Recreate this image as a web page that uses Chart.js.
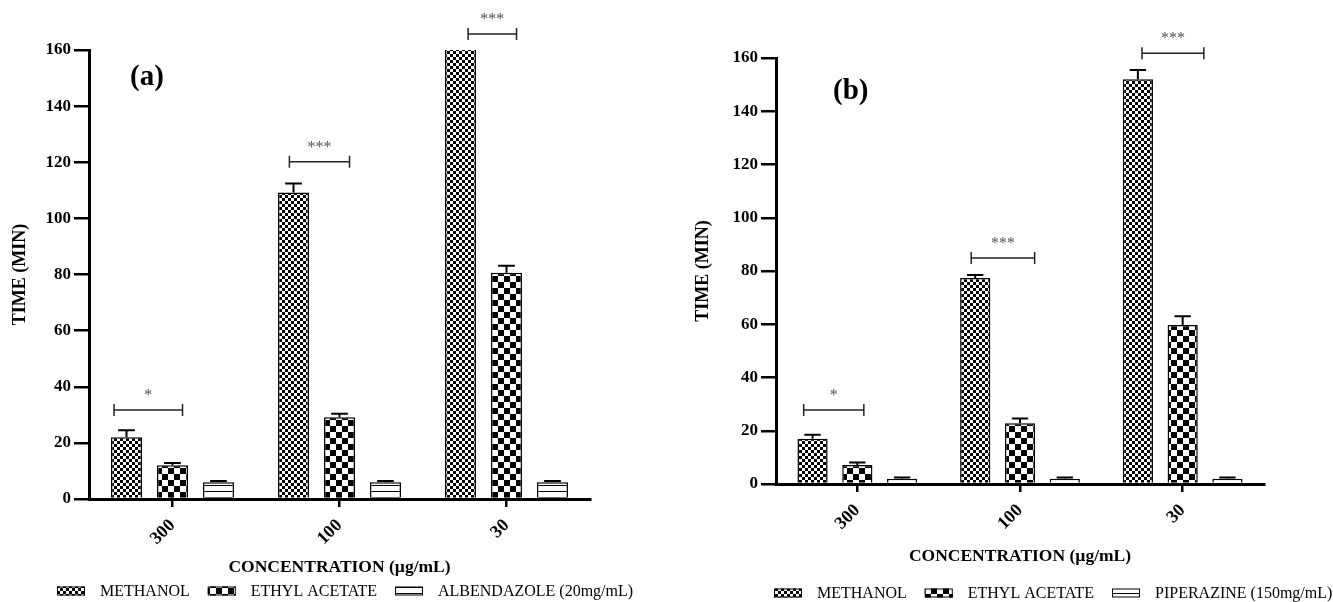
<!DOCTYPE html>
<html>
<head>
<meta charset="utf-8">
<script src="https://cdn.jsdelivr.net/npm/chart.js@4.4.1/dist/chart.umd.min.js"></script>
<style>
  body { margin: 0; background: #fff; }
  #wrap { position: relative; width: 1333px; height: 602px; overflow: hidden; }
  canvas { position: absolute; top: 0; }
  #chart-a { left: 0; }
  #chart-b { left: 667px; }
</style>
</head>
<body>
<div id="wrap">
  <canvas id="chart-a" width="667" height="602"></canvas>
  <canvas id="chart-b" width="666" height="602"></canvas>
</div>
<script>
// Data

const categories = ['300', '100', '30'];
const yTickStep = 20;
const yMax = 160;

// Panel (a)
const labelsA = ['METHANOL', 'ETHYL ACETATE', 'ALBENDAZOLE (20mg/mL)'];
const methanolA = [22, 109.2, 162];
const methanolErrA = [2.5, 3.2, 0];
const ethylA = [12, 29.1, 80.6];
const ethylErrA = [0.8, 1.3, 2.5];
const albendazoleA = [6, 6, 6];
const albendazoleErrA = [0.4, 0.4, 0.4];
// significance brackets: category, start/end in category widths, height, stars
const bracketsA = [
  { cat: 0, from: -0.35, to: 0.06, y: 31.7, text: '*' },
  { cat: 1, from: -0.30, to: 0.06, y: 120.2, text: '***' },
  { cat: 2, from: -0.23, to: 0.06, y: 165.7, text: '***' }
];

// Panel (b)
const labelsB = ['METHANOL', 'ETHYL ACETATE', 'PIPERAZINE (150mg/mL)'];
const methanolB = [17, 77.4, 152];
const methanolErrB = [1.5, 1.1, 3.5];
const ethylB = [7.1, 22.8, 59.7];
const ethylErrB = [1.0, 1.8, 3.3];
const piperazineB = [2, 2, 2];
const piperazineErrB = [0.4, 0.4, 0.4];
const bracketsB = [
  { cat: 0, from: -0.33, to: 0.04, y: 27.8, text: '*' },
  { cat: 1, from: -0.30, to: 0.09, y: 84.9, text: '***' },
  { cat: 2, from: -0.25, to: 0.13, y: 161.8, text: '***' }
];

// Fill patterns

const SERIF = '"Liberation Serif", "Times New Roman", serif';

function makePattern(kind) {
  const c = document.createElement('canvas');
  const g = c.getContext('2d');
  let s = kind === 'coarse' ? 12 : 6;
  c.width = c.height = s;
  g.fillStyle = '#fff';
  g.fillRect(0, 0, s, s);
  g.fillStyle = '#000';
  if (kind === 'lines') {
    g.fillRect(0, 5, s, 1);
  } else {
    g.fillRect(0, 0, s / 2, s / 2);
    g.fillRect(s / 2, s / 2, s / 2, s / 2);
  }
  return g.createPattern(c, 'repeat');
}

const fineChecks = makePattern('fine');
const coarseChecks = makePattern('coarse');
const stripes = makePattern('lines');

// Error bars, brackets, legend and panel letter

function decorations(panel) {
  return {
    id: 'decorations',
    afterDatasetsDraw(chart) {
      const ctx = chart.ctx, y = chart.scales.y, a = chart.chartArea;
      ctx.save();
      ctx.beginPath();
      ctx.rect(a.left, a.top - 1, a.right - a.left, a.bottom - a.top + 1);
      ctx.clip();
      ctx.strokeStyle = '#000';
      ctx.lineWidth = 2;
      panel.errors.forEach((errs, d) => {
        chart.getDatasetMeta(d).data.forEach((bar, i) => {
          const v = chart.data.datasets[d].data[i];
          if (!errs[i]) return;
          const top = y.getPixelForValue(v + errs[i]);
          const half = bar.width * 0.27;
          ctx.beginPath();
          ctx.moveTo(bar.x, bar.y);
          ctx.lineTo(bar.x, top);
          ctx.moveTo(bar.x - half, top);
          ctx.lineTo(bar.x + half, top);
          ctx.stroke();
        });
      });
      ctx.restore();
    },
    afterDraw(chart) {
      const ctx = chart.ctx, x = chart.scales.x, y = chart.scales.y, a = chart.chartArea;
      const cw = x.getPixelForValue(1) - x.getPixelForValue(0);
      ctx.save();

      // brackets
      ctx.strokeStyle = '#222';
      ctx.lineWidth = 1.5;
      panel.brackets.forEach(b => {
        const cx = x.getPixelForValue(b.cat);
        const x0 = cx + b.from * cw, x1 = cx + b.to * cw;
        const yy = y.getPixelForValue(b.y);
        ctx.beginPath();
        ctx.moveTo(x0, yy); ctx.lineTo(x1, yy);
        ctx.moveTo(x0, yy - 6); ctx.lineTo(x0, yy + 6);
        ctx.moveTo(x1, yy - 6); ctx.lineTo(x1, yy + 6);
        ctx.stroke();
        ctx.fillStyle = '#555';
        ctx.font = '16px ' + SERIF;
        ctx.textAlign = 'center';
        ctx.textBaseline = 'middle';
        ctx.fillText(b.text, (x0 + x1) / 2, yy - 14);
      });

      // panel letter
      ctx.fillStyle = '#000';
      ctx.font = 'bold 29px ' + SERIF;
      ctx.textAlign = 'left';
      ctx.textBaseline = 'middle';
      ctx.fillText(panel.letter, a.left + panel.letterDx, panel.letterY);

      // legend
      let lx = a.left + panel.legendDx;
      const ly = panel.legendY;
      ctx.font = '16px ' + SERIF;
      ctx.lineWidth = 1;
      ctx.strokeStyle = '#000';
      chart.data.datasets.forEach(ds => {
        ctx.fillStyle = ds.backgroundColor;
        ctx.fillRect(lx, ly - 4.5, 28, 9);
        ctx.strokeRect(lx + 0.5, ly - 4, 27, 8);
        ctx.fillStyle = '#000';
        ctx.fillText(ds.label, lx + 43, ly + 1);
        lx += 43 + ctx.measureText(ds.label).width + 18;
      });
      ctx.restore();
    }
  };
}

function makeChart(id, panel) {
  const datasets = panel.series.map((values, i) => ({
    label: panel.labels[i],
    data: values,
    backgroundColor: [fineChecks, coarseChecks, stripes][i],
    borderColor: '#000',
    borderWidth: 1.5,
    borderSkipped: 'bottom',
    categoryPercentage: 0.826,
    barPercentage: 0.674
  }));

  return new Chart(document.getElementById(id), {
    type: 'bar',
    data: { labels: categories, datasets: datasets },
    options: {
      responsive: false,
      animation: false,
      layout: { padding: { top: panel.top, right: panel.right, left: 0, bottom: 0 } },
      plugins: { legend: { display: false }, tooltip: { enabled: false } },
      scales: {
        x: {
          afterFit: s => { s.height = panel.xHeight; },
          grid: { drawOnChartArea: false, offset: false, tickLength: 8, lineWidth: 2.5, color: '#000' },
          border: { color: '#000', width: 3 },
          ticks: {
            color: '#000', minRotation: 45, maxRotation: 45, padding: 8,
            font: { family: SERIF, size: 18, weight: 'bold' }
          },
          title: {
            display: true, text: 'CONCENTRATION (µg/mL)', color: '#000',
            font: { family: SERIF, size: 17.5, weight: 'bold' },
            padding: { top: 0, bottom: panel.xTitlePad }
          }
        },
        y: {
          min: 0, max: yMax,
          afterFit: s => { s.width = panel.yWidth; },
          grid: { drawOnChartArea: false, tickLength: 15, lineWidth: 2.5, color: '#000' },
          border: { color: '#000', width: 3 },
          ticks: {
            stepSize: yTickStep, color: '#000', padding: 3,
            font: { family: SERIF, size: 17, weight: 'bold' }
          },
          title: {
            display: true, text: 'TIME (MIN)', color: '#000',
            font: { family: SERIF, size: 18, weight: 'bold' },
            padding: { top: panel.yTitlePad, bottom: 0 }
          }
        }
      }
    },
    plugins: [decorations(panel)]
  });
}

makeChart('chart-a', {
  labels: labelsA,
  series: [methanolA, ethylA, albendazoleA],
  errors: [methanolErrA, ethylErrA, albendazoleErrA],
  brackets: bracketsA,
  letter: '(a)', letterDx: 41, letterY: 78,
  legendDx: -32, legendY: 591,
  top: 50, right: 77, xHeight: 103, yWidth: 89,
  xTitlePad: 24, yTitlePad: 9.2
});

makeChart('chart-b', {
  labels: labelsB,
  series: [methanolB, ethylB, piperazineB],
  errors: [methanolErrB, ethylErrB, piperazineErrB],
  brackets: bracketsB,
  letter: '(b)', letterDx: 57, letterY: 92,
  legendDx: -2, legendY: 593,
  top: 58, right: 69, xHeight: 118, yWidth: 109,
  xTitlePad: 35, yTitlePad: 25.2
});
</script>
</body>
</html>
